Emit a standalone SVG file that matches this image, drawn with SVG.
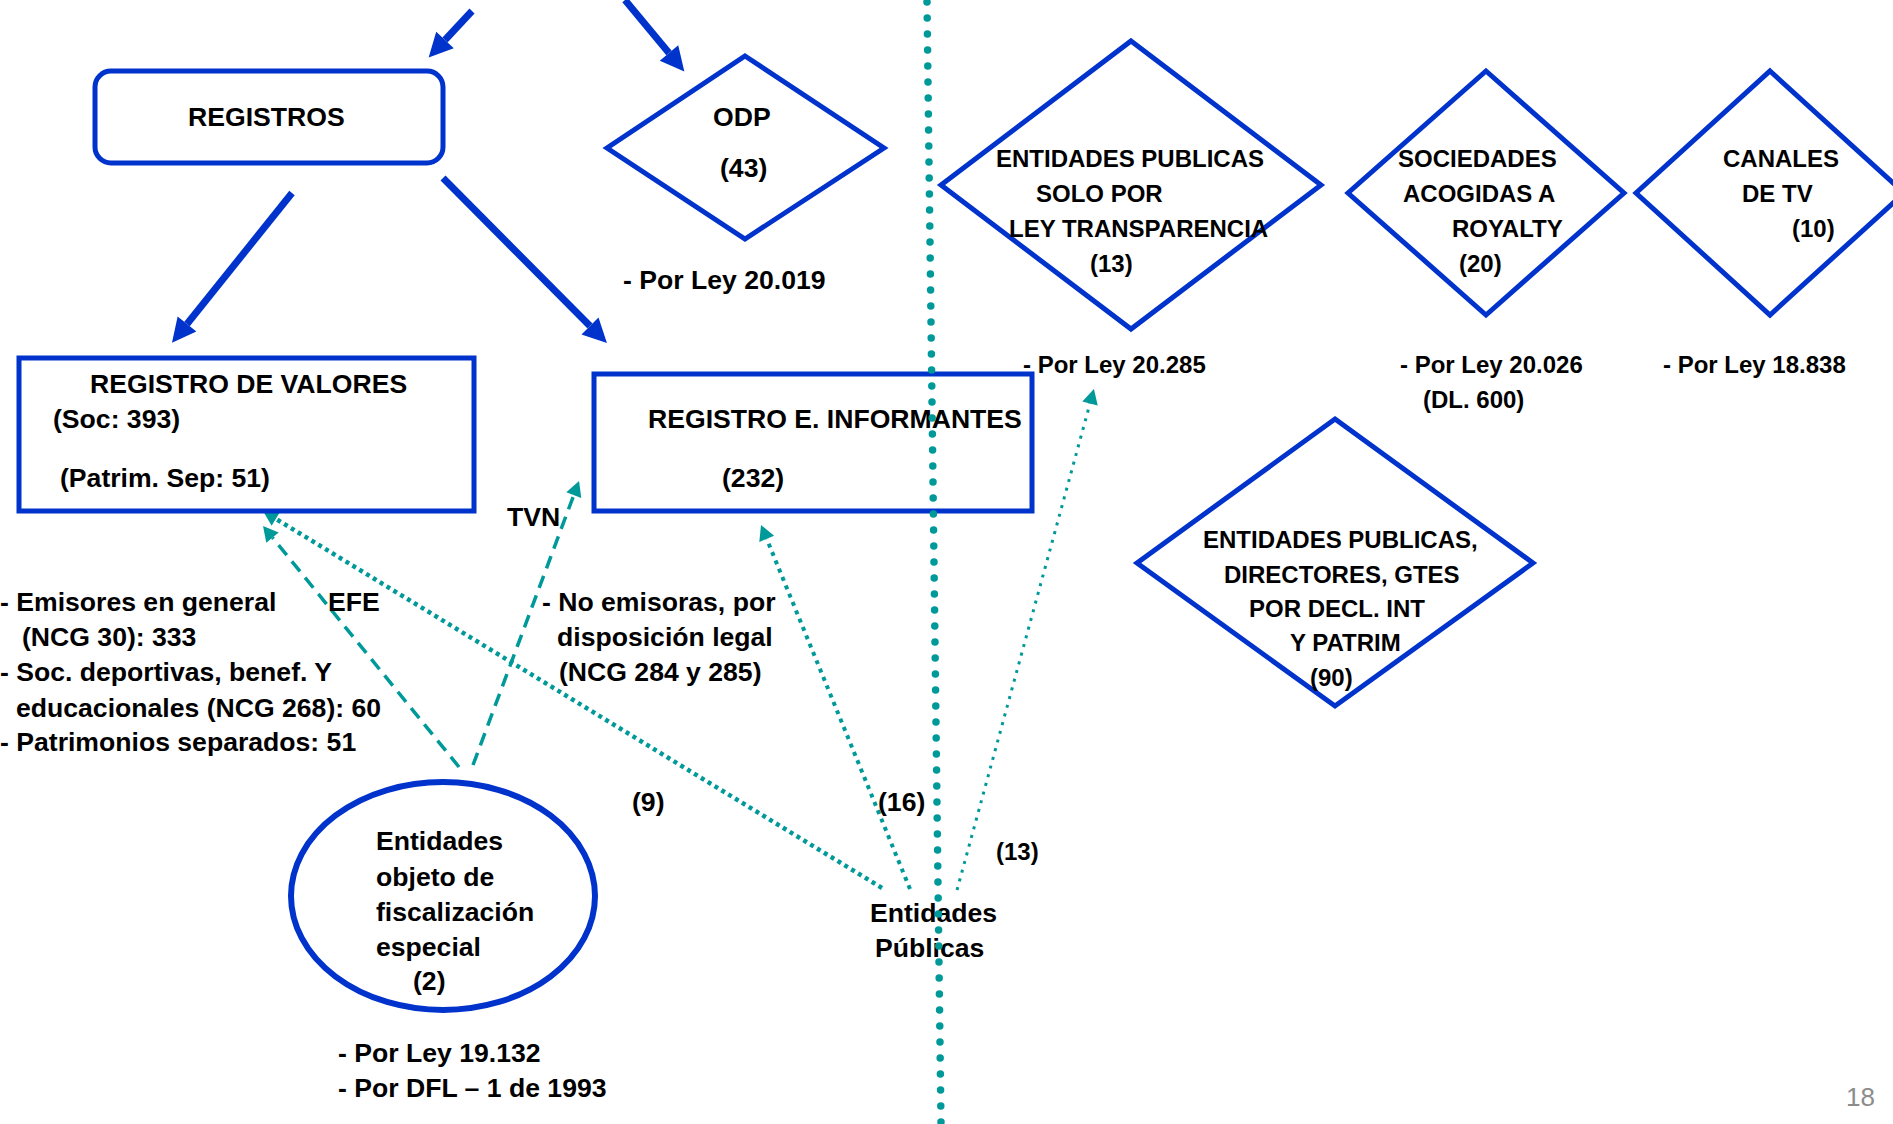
<svg xmlns="http://www.w3.org/2000/svg" width="1893" height="1124" viewBox="0 0 1893 1124">
<style>
.t{font-family:"Liberation Sans",Arial,sans-serif;font-weight:bold;font-size:26.6px;fill:#000}
.s{font-size:24px}
.shape{fill:none;stroke:#0033CC;stroke-width:5}
.blue{stroke:#0033CC;stroke-width:7;fill:none}
.teal{stroke:#009999;fill:none}
</style>
<defs>
<marker id="ab" markerUnits="userSpaceOnUse" orient="auto" refX="0" refY="0" overflow="visible"><path d="M0,-12 L24,0 L0,12 z" fill="#0033CC"/></marker>
<marker id="at" markerUnits="userSpaceOnUse" orient="auto" refX="0" refY="0" overflow="visible"><path d="M0,-8 L15,0 L0,8 z" fill="#009999"/></marker>
</defs>
<rect width="1893" height="1124" fill="#fff"/>

<g id="connectors">
<line class="blue" x1="472" y1="11" x2="445" y2="40" marker-end="url(#ab)"/>
<line class="blue" x1="625" y1="0" x2="669" y2="53" marker-end="url(#ab)"/>
<line class="blue" x1="292" y1="193" x2="187" y2="324" marker-end="url(#ab)"/>
<line class="blue" x1="443" y1="178" x2="590" y2="326" marker-end="url(#ab)"/>
<line class="teal" stroke-width="3.5" stroke-dasharray="13 8" x1="459" y1="767" x2="272.5" y2="537.6" marker-end="url(#at)"/>
<line class="teal" stroke-width="3.5" stroke-dasharray="13 8" x1="473" y1="765" x2="573.8" y2="495.1" marker-end="url(#at)"/>
<line class="teal" stroke-width="4.5" stroke-dasharray="4 4" x1="882" y1="888" x2="275.8" y2="518.8" marker-end="url(#at)"/>
<line class="teal" stroke-width="4" stroke-dasharray="4 5" x1="910" y1="889" x2="766.7" y2="538.9" marker-end="url(#at)"/>
<line class="teal" stroke-width="3" stroke-dasharray="3 6" x1="957" y1="890" x2="1090" y2="403.5" marker-end="url(#at)"/>
</g>

<g id="registros">
<rect class="shape" x="95" y="71" width="348" height="92" rx="16"/>
<text class="t" x="188" y="126">REGISTROS</text>
</g>

<g id="odp">
<polygon class="shape" points="745,56 884,148 745,239 607,148"/>
<text class="t" x="713" y="126">ODP</text>
<text class="t" x="720" y="177">(43)</text>
<text class="t" x="623" y="289">- Por Ley 20.019</text>
</g>

<g id="registro-valores">
<rect class="shape" x="19" y="358" width="455" height="153"/>
<text class="t" x="90" y="393">REGISTRO DE VALORES</text>
<text class="t" x="53" y="428">(Soc: 393)</text>
<text class="t" x="60" y="487">(Patrim. Sep: 51)</text>
</g>

<g id="registro-informantes">
<rect class="shape" x="594" y="374" width="438" height="137"/>
<text class="t" x="648" y="428">REGISTRO E. INFORMANTES</text>
<text class="t" x="722" y="487">(232)</text>
</g>

<g id="notas-valores">
<text class="t" x="0" y="611">- Emisores en general</text>
<text class="t" x="22" y="646">(NCG 30): 333</text>
<text class="t" x="0" y="681">- Soc. deportivas, benef. Y</text>
<text class="t" x="16" y="717">educacionales (NCG 268): 60</text>
<text class="t" x="0" y="751">- Patrimonios separados: 51</text>
</g>

<g id="notas-informantes">
<text class="t" x="542" y="611">- No emisoras, por</text>
<text class="t" x="557" y="646">disposición legal</text>
<text class="t" x="559" y="681">(NCG 284 y 285)</text>
</g>

<g id="labels">
<text class="t" x="507" y="526">TVN</text>
<text class="t" x="328" y="611">EFE</text>
<text class="t" x="632" y="811">(9)</text>
<text class="t" x="878" y="811">(16)</text>
<text class="t s" x="996" y="860">(13)</text>
</g>

<g id="fiscalizacion-especial">
<ellipse cx="443" cy="896" rx="152" ry="114" fill="none" stroke="#0033CC" stroke-width="6"/>
<text class="t" x="376" y="850">Entidades</text>
<text class="t" x="376" y="886">objeto de</text>
<text class="t" x="376" y="921">fiscalización</text>
<text class="t" x="376" y="956">especial</text>
<text class="t" x="413" y="990">(2)</text>
<text class="t" x="338" y="1062">- Por Ley 19.132</text>
<text class="t" x="338" y="1097">- Por DFL – 1 de 1993</text>
</g>

<g id="entidades-publicas">
<text class="t" x="870" y="922">Entidades</text>
<text class="t" x="875" y="957">Públicas</text>
</g>

<g id="ley-transparencia">
<polygon class="shape" points="1131,41 1321,185 1131,329 941,185"/>
<text class="t s" x="996" y="167">ENTIDADES PUBLICAS</text>
<text class="t s" x="1036" y="202">SOLO POR</text>
<text class="t s" x="1009" y="237">LEY TRANSPARENCIA</text>
<text class="t s" x="1090" y="272">(13)</text>
<text class="t s" x="1023" y="373">- Por Ley 20.285</text>
</g>

<g id="royalty">
<polygon class="shape" points="1486,71 1624,193 1486,315 1348,193"/>
<text class="t s" x="1398" y="167">SOCIEDADES</text>
<text class="t s" x="1403" y="202">ACOGIDAS A</text>
<text class="t s" x="1452" y="237">ROYALTY</text>
<text class="t s" x="1459" y="272">(20)</text>
<text class="t s" x="1400" y="373">- Por Ley 20.026</text>
<text class="t s" x="1423" y="408">(DL. 600)</text>
</g>

<g id="canales-tv">
<polygon class="shape" points="1770,71 1904,193 1770,315 1636,193"/>
<text class="t s" x="1723" y="167">CANALES</text>
<text class="t s" x="1742" y="202">DE TV</text>
<text class="t s" x="1792" y="237">(10)</text>
<text class="t s" x="1663" y="373">- Por Ley 18.838</text>
</g>

<g id="declaraciones">
<polygon class="shape" points="1335,419 1533,563 1335,706 1137,563"/>
<text class="t s" x="1203" y="548">ENTIDADES PUBLICAS,</text>
<text class="t s" x="1224" y="583">DIRECTORES, GTES</text>
<text class="t s" x="1249" y="617">POR DECL. INT</text>
<text class="t s" x="1290" y="651">Y PATRIM</text>
<text class="t s" x="1310" y="686">(90)</text>
</g>

<g id="divisor">
<line x1="927" y1="2" x2="941" y2="1124" stroke="#009999" stroke-width="7.5" stroke-linecap="round" stroke-dasharray="0 16"/>
</g>

<text x="1846" y="1106" font-family="Liberation Sans, Arial, sans-serif" font-size="26" fill="#8c8c8c">18</text>
</svg>
